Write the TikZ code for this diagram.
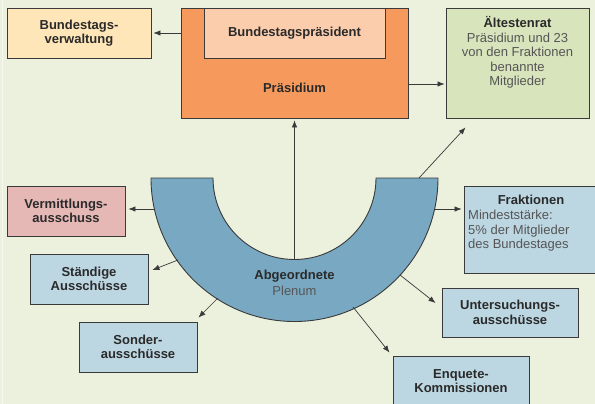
\documentclass[tikz,border=0pt]{standalone}
\usepackage{fontspec}
\setmainfont{Liberation Sans}
\usetikzlibrary{arrows.meta,calc}
\definecolor{bg}{HTML}{EBF1DD}
\definecolor{linec}{HTML}{3A3A3A}
\definecolor{txt}{HTML}{2A2A2A}
\definecolor{greytxt}{HTML}{555555}
\definecolor{verwfill}{HTML}{FEE6B8}
\definecolor{praesfill}{HTML}{F6995C}
\definecolor{bpfill}{HTML}{FBCDAC}
\definecolor{aeltfill}{HTML}{D8E4BC}
\definecolor{vermfill}{HTML}{E5B8B6}
\definecolor{bluefill}{HTML}{BCD6E2}
\definecolor{ringfill}{HTML}{79A9C2}
\begin{document}
\begin{tikzpicture}[x=1pt,y=-1pt,
  font=\fontsize{13}{14.5}\selectfont,
  box/.style={draw=linec, line width=0.9pt, inner sep=0pt, align=center, text=txt, font=\fontsize{13}{14.5}\selectfont\bfseries},
  bold/.style={inner sep=0pt, text=txt, font=\fontsize{13}{14.5}\selectfont\bfseries},
  thin/.style={inner sep=0pt, text=greytxt, font=\fontsize{13}{14.5}\selectfont},
  arr/.style={draw=linec, line width=0.7pt, -{Latex[length=7pt,width=5.5pt]}}]
\useasboundingbox (0,0) rectangle (595,404);
\fill[bg] (0,0) rectangle (595,404);
\draw[white, opacity=0.5, line width=1pt] (2.5,0) -- (2.5,404);

% top row
\node[box, fill=verwfill, minimum width=144pt, minimum height=50pt] (verw) at (79,33) {Bundestags-\\verwaltung};
\node[box, fill=praesfill, minimum width=227pt, minimum height=110pt] (praes) at (294.5,63) {};
\node[box, fill=bpfill, minimum width=181pt, minimum height=50pt] (bp) at (294.5,33) {Bundestagspräsident};
\node[bold, anchor=base] (ptext) at (294.5,92.6) {Präsidium};
\node[box, fill=aeltfill, minimum width=143pt, minimum height=110pt] (aelt) at (517.5,63) {};
\node[bold, anchor=base] (aelttitle) at (517.5,27.6) {Ältestenrat};
\node[thin, anchor=north, align=center] (aelttext) at (517.5,32.5) {Präsidium und 23\\von den Fraktionen\\benannte\\Mitglieder};

% plenum ring
\fill[ringfill, draw=linec, line width=0.9pt] (151,178) arc[start angle=180, end angle=0, radius=143.5] -- (376,178) arc[start angle=0, end angle=180, radius=81.5] -- cycle;
\node[bold, anchor=base] (abg) at (294.5,279.6) {Abgeordnete};
\node[thin, anchor=base] (plenum) at (294.5,295.4) {Plenum};

% left boxes
\node[box, fill=vermfill, minimum width=118pt, minimum height=50pt] (verm) at (66,211) {Vermittlungs-\\ausschuss};
\node[box, fill=bluefill, minimum width=118pt, minimum height=50pt] (staend) at (89,279) {Ständige\\Ausschüsse};
\node[box, fill=bluefill, minimum width=118pt, minimum height=50pt] (sonder) at (138,347) {Sonder-\\ausschüsse};

% right boxes
\node[box, fill=bluefill, minimum width=134pt, minimum height=87pt] (frak) at (531,229.5) {};
\node[bold, anchor=base] (fraktitle) at (531,204.6) {Fraktionen};
\node[thin, anchor=north west, align=left] (fraktext) at (468,210.2) {Mindeststärke:\\5\% der Mitglieder\\des Bundestages};
\node[box, fill=bluefill, minimum width=136pt, minimum height=49pt] (unters) at (510,312.5) {Untersuchungs-\\ausschüsse};
\node[box, fill=bluefill, minimum width=136pt, minimum height=50pt] (enq) at (461,381) {Enquete-\\Kommissionen};

% connector start points on the ring
\coordinate (rtop) at (294.5,259.5);
\coordinate (rael) at (419,178);
\coordinate (rverm) at (154.4,209);
\coordinate (rstaend) at (178,260);
\coordinate (rsonder) at (218,298);
\coordinate (rfrak) at (435,209);
\coordinate (runters) at (400,275);
\coordinate (renq) at (353,307);

% connectors
\draw[arr, shorten >=2pt] (praes.west |- verw.east) -- (verw.east);
\draw[arr, shorten >=1pt] ($(praes.east)+(0,21)$) -- ($(aelt.west)+(0,21)$);
\draw[arr, shorten >=2pt] (rtop) -- (praes.south);
\draw[arr] (rael) -- ($(aelt.south west)+(20,9)$);
\draw[arr, shorten >=3pt] (rverm) -- (rverm -| verm.east);
\draw[arr] (rstaend) -- ($(staend.east)+(4,-9)$);
\draw[arr] (rsonder) -- ($(sonder.north east)+(1,-4)$);
\draw[arr, shorten >=2pt] (rfrak) -- (rfrak -| frak.west);
\draw[arr] (runters) -- ($(unters.west)+(-6,-9.5)$);
\draw[arr] (renq) -- ($(enq.north west)+(-3,-3)$);
\end{tikzpicture}
\end{document}
